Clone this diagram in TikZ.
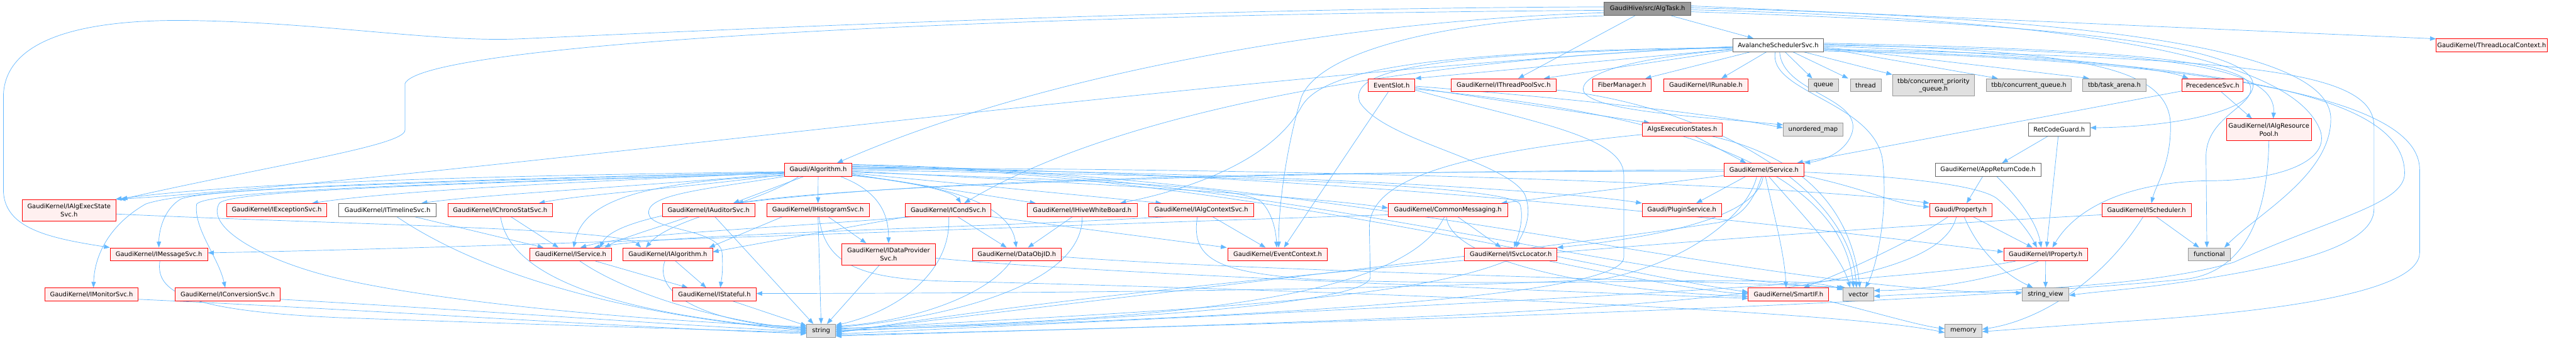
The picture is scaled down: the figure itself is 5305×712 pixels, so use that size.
\documentclass[tikz,border=0pt]{standalone}
\usepackage{fontspec}
\newfontfamily\dv{DejaVu Sans}
\usetikzlibrary{arrows.meta}
\definecolor{eblue}{HTML}{63B8FF}
\definecolor{rfill}{HTML}{FFF0F0}
\definecolor{rborder}{HTML}{FF0000}
\definecolor{gfill}{HTML}{E0E0E0}
\definecolor{gborder}{HTML}{999999}
\definecolor{wborder}{HTML}{666666}
\definecolor{rootfill}{HTML}{999999}
\pgfdeclarelayer{bg}
\pgfdeclarelayer{paper}
\pgfsetlayers{paper,bg,main}
\tikzset{
 nb/.style={draw, rectangle, inner sep=0pt, line width=1.1pt, minimum height=26.8pt, font=\dv\fontsize{12.9pt}{16.5pt}\selectfont, align=center, text=black},
 rn/.style={nb, draw=rborder, fill=rfill},
 gn/.style={nb, draw=gborder, fill=gfill},
 wn/.style={nb, draw=wborder, fill=white},
 rootn/.style={nb, draw=wborder, fill=rootfill},
 e/.style={draw=eblue, line width=0.9pt, -{Triangle[length=12pt,width=9pt]}},
}
\begin{document}
\begin{tikzpicture}[x=1pt,y=-1pt]
\useasboundingbox (0,0) rectangle (5305,712);
\begin{pgfonlayer}{paper}
\fill[white] (0,0) rectangle (5305,712);
\end{pgfonlayer}
% row 0/1
\node[rootn, minimum width=178.5pt, minimum height=27.5pt] (algtask) at (3392.9,18.2) {GaudiHive/src/AlgTask.h};
\node[wn, minimum width=187.5pt] (avalanche) at (3662,92.9) {AvalancheSchedulerSvc.h};
\node[rn, minimum width=228.5pt] (threadlocal) at (5131.2,92.9) {GaudiKernel/ThreadLocalContext.h};
% row 2
\node[rn, minimum width=96pt] (eventslot) at (2865.9,175.4) {EventSlot.h};
\node[rn, minimum width=216.5pt] (threadpool) at (3096.6,175.4) {GaudiKernel/IThreadPoolSvc.h};
\node[rn, minimum width=121pt] (fiber) at (3340.4,175.4) {FiberManager.h};
\node[rn, minimum width=173.3pt] (irunable) at (3513,175.4) {GaudiKernel/IRunable.h};
\node[gn, minimum width=61pt] (queue) at (3755.2,175.4) {queue};
\node[gn, minimum width=63.4pt] (thread) at (3842,175.4) {thread};
\node[gn, minimum width=169.2pt, minimum height=43.8pt] (tbbcpq) at (3981.9,175.9) {tbb/concurrent\_priority\\\_queue.h};
\node[gn, minimum width=174.2pt] (tbbcq) at (4178.1,175.4) {tbb/concurrent\_queue.h};
\node[gn, minimum width=130pt] (tbbta) at (4354.2,175.4) {tbb/task\_arena.h};
\node[rn, minimum width=125.8pt] (precedence) at (4556.7,175.4) {PrecedenceSvc.h};
% row 3
\node[rn, minimum width=165.6pt] (algsexec) at (3464.5,267) {AlgsExecutionStates.h};
\node[gn, minimum width=123.2pt] (unordered) at (3733.9,267) {unordered\_map};
\node[wn, minimum width=126.8pt] (retcode) at (4240.6,267) {RetCodeGuard.h};
\node[rn, minimum width=175.5pt, minimum height=44.7pt] (algres) at (4672.5,267) {GaudiKernel/IAlgResource\\Pool.h};
% row 4
\node[rn, minimum width=139.3pt] (algorithm) at (1684.9,349.5) {Gaudi/Algorithm.h};
\node[rn, minimum width=164.8pt] (service) at (3632.8,349.5) {GaudiKernel/Service.h};
\node[wn, minimum width=217.4pt] (appret) at (4094,349.5) {GaudiKernel/AppReturnCode.h};
% row 5
\node[rn, minimum width=193.3pt, minimum height=43.8pt] (execstate) at (142.2,432.6) {GaudiKernel/IAlgExecState\\Svc.h};
\node[rn, minimum width=206.7pt] (exception) at (569.9,432.2) {GaudiKernel/IExceptionSvc.h};
\node[wn, minimum width=200.4pt] (timeline) at (798,432.2) {GaudiKernel/ITimelineSvc.h};
\node[rn, minimum width=215.2pt] (chrono) at (1029.9,432.2) {GaudiKernel/IChronoStatSvc.h};
\node[rn, minimum width=190.7pt] (auditor) at (1459.2,432.2) {GaudiKernel/IAuditorSvc.h};
\node[rn, minimum width=211.2pt] (histo) at (1684.6,432.2) {GaudiKernel/IHistogramSvc.h};
\node[rn, minimum width=176.3pt] (cond) at (1952.9,432.2) {GaudiKernel/ICondSvc.h};
\node[rn, minimum width=226.4pt] (hive) at (2228.8,432.2) {GaudiKernel/IHiveWhiteBoard.h};
\node[rn, minimum width=215.7pt] (algctx) at (2473.9,432.2) {GaudiKernel/IAlgContextSvc.h};
\node[rn, minimum width=245.6pt] (commonmsg) at (2981.7,432.2) {GaudiKernel/CommonMessaging.h};
\node[rn, minimum width=163.4pt] (plugin) at (3463.4,432.2) {Gaudi/PluginService.h};
\node[rn, minimum width=128.5pt] (property) at (4038,432.2) {Gaudi/Property.h};
\node[rn, minimum width=183.9pt] (ischeduler) at (4420.5,432.2) {GaudiKernel/IScheduler.h};
% row 6
\node[rn, minimum width=200.9pt] (msgsvc) at (327.2,523.6) {GaudiKernel/IMessageSvc.h};
\node[rn, minimum width=168.4pt] (iservice) at (1175.2,523.6) {GaudiKernel/IService.h};
\node[rn, minimum width=184.4pt] (ialgorithm) at (1375.2,523.6) {GaudiKernel/IAlgorithm.h};
\node[rn, minimum width=193.8pt, minimum height=44.2pt] (dataprov) at (1829.9,523.4) {GaudiKernel/IDataProvider\\Svc.h};
\node[rn, minimum width=183.5pt] (dataobjid) at (2094,523.6) {GaudiKernel/DataObjID.h};
\node[rn, minimum width=204.5pt] (evctx) at (2631.2,523.6) {GaudiKernel/EventContext.h};
\node[rn, minimum width=190.3pt] (svcloc) at (3111.2,523.6) {GaudiKernel/ISvcLocator.h};
\node[rn, minimum width=172.8pt] (iproperty) at (4212.7,523.6) {GaudiKernel/IProperty.h};
\node[gn, minimum width=87pt] (functional) at (4549.8,523.6) {functional};
% row 7
\node[rn, minimum width=192.8pt] (monitor) at (188.4,606.2) {GaudiKernel/IMonitorSvc.h};
\node[rn, minimum width=216.1pt] (conversion) at (468.8,606.2) {GaudiKernel/IConversionSvc.h};
\node[rn, minimum width=171.4pt] (stateful) at (1471.4,606.2) {GaudiKernel/IStateful.h};
\node[rn, minimum width=165.7pt] (smartif) at (3683.2,606.2) {GaudiKernel/SmartIF.h};
\node[gn, minimum width=62.5pt] (vector) at (3827.2,606.2) {vector};
\node[gn, minimum width=96.4pt] (stringview) at (4212.5,606.2) {string\_view};
% row 8
\node[gn, minimum width=58.9pt] (string) at (1691,680.8) {string};
\node[gn, minimum width=76.3pt] (memory) at (4043.5,680.8) {memory};

\begin{pgfonlayer}{bg}
% ---- root
\draw[e] ([xshift=49pt]algtask.south) -- ([xshift=-51pt]avalanche.north);
\draw[e] ([yshift=6pt]algtask.east) -- ([yshift=13pt]threadlocal.west);
\draw[e] ([xshift=-26pt]algtask.south) -- ([xshift=30pt]threadpool.north);
\draw[e] ([yshift=-8pt]algtask.west) .. controls (2700,45) and (2100,170) .. ([xshift=39pt]algorithm.north);
\draw[e] ([yshift=-3pt]algtask.west) .. controls (2000,30) and (870,90) .. (834,172) -- (834,268) .. controls (834,300) and (560,340) .. ([xshift=108pt]execstate.north);
\draw[e] ([yshift=4pt]algtask.west) .. controls (2400,16) and (1300,70) .. (1070,80) .. controls (900,88) and (650,44) .. (370,42) .. controls (100,42) and (7,110) .. (7,200) -- (7,390) .. controls (7,470) and (100,490) .. (msgsvc.north west);
\draw[e] ([yshift=-6pt]algtask.east) .. controls (4300,50) and (4640,100) .. (4640,175) .. controls (4640,235) and (4450,262) .. ([yshift=4pt]retcode.east);
\draw[e] ([yshift=2pt]algtask.east) .. controls (4500,40) and (4800,130) .. (4800,245) .. controls (4800,360) and (4650,440) .. ([xshift=31pt]functional.north);
\draw[e] ([yshift=-2pt]algtask.east) .. controls (4300,40) and (4720,120) .. (4778,268) .. controls (4800,330) and (4700,370) .. (4560,372) .. controls (4400,372) and (4280,420) .. ([xshift=14pt]iproperty.north);
\draw[e] (algtask.south west) .. controls (3000,40) and (2720,100) .. (2680,200) .. controls (2650,300) and (2633,420) .. ([xshift=2pt]evctx.north);
% ---- avalanche
\draw[e] ([yshift=-8pt]avalanche.west) -- (eventslot.north east);
\draw[e] ([yshift=-11pt]avalanche.west) -- ([xshift=83pt]threadpool.north);
\draw[e] ([xshift=-57pt]avalanche.south) -- ([xshift=48pt]fiber.north);
\draw[e] ([xshift=-24pt]avalanche.south) -- ([xshift=32pt]irunable.north);
\draw[e] ([xshift=14pt]avalanche.south) -- ([xshift=-23pt]queue.north);
\draw[e] ([xshift=30pt]avalanche.south) -- ([xshift=-36pt]thread.north);
\draw[e] ([xshift=52pt]avalanche.south) -- (tbbcpq.north west);
\draw[e] ([yshift=-6pt]avalanche.east) -- ([xshift=-64pt]tbbcq.north);
\draw[e] ([yshift=-4pt]avalanche.east) -- ([xshift=-52pt]tbbta.north);
\draw[e] ([yshift=-2pt]avalanche.east) .. controls (4200,110) and (4450,140) .. ([xshift=-50pt]precedence.north);
\draw[e] (avalanche.east) .. controls (4400,105) and (4690,125) .. ([xshift=9pt]algres.north);
\draw[e] ([yshift=2pt]avalanche.east) .. controls (4300,105) and (4470,140) .. (4470,260) .. controls (4470,340) and (4440,380) .. ([xshift=10pt]ischeduler.north);
\draw[e] ([yshift=4pt]avalanche.east) .. controls (4300,100) and (4630,120) .. (4635,180) .. controls (4640,220) and (4545,240) .. (4543,320) -- ([xshift=-5pt]functional.north);
\draw[e] ([yshift=-8pt]avalanche.east) .. controls (4600,120) and (4889,140) .. (4889,260) -- (4889,430) .. controls (4889,510) and (4700,550) .. (4500,580) .. controls (4400,595) and (4320,600) .. ([yshift=-2pt]stringview.east);
\draw[e] ([yshift=-10pt]avalanche.east) .. controls (4700,125) and (4952,220) .. (4952,357) .. controls (4952,420) and (4800,450) .. (4600,540) .. controls (4400,600) and (4000,600) .. ([yshift=-4pt]vector.east);
\draw[e] ([yshift=-12pt]avalanche.east) .. controls (4800,130) and (4983,250) .. (4983,350) -- (4983,520) .. controls (4983,600) and (4700,640) .. (4400,660) .. controls (4250,670) and (4150,678) .. ([yshift=-2pt]memory.east);
\draw[e] ([yshift=-3pt]avalanche.west) .. controls (2600,140) and (1000,360) .. ([xshift=104pt]execstate.north);
\draw[e] ([yshift=-4pt]avalanche.west) .. controls (2900,120) and (2300,230) .. ([xshift=33pt]cond.north);
\draw[e] ([yshift=-5pt]avalanche.west) .. controls (2900,105) and (2720,150) .. (2680,220) .. controls (2620,330) and (2450,390) .. ([xshift=78pt]hive.north);
\draw[e] ([yshift=-6pt]avalanche.west) .. controls (2900,108) and (2780,150) .. (2800,210) .. controls (2850,290) and (3100,330) .. (3140,400) .. controls (3160,450) and (3130,490) .. ([xshift=11pt]svcloc.north);
\draw[e] ([yshift=-9pt]avalanche.west) .. controls (3300,125) and (3250,165) .. (3262,190) .. controls (3290,230) and (3500,240) .. ([yshift=10pt]unordered.west);
\draw[e] ([xshift=3pt]avalanche.south) .. controls (3670,190) and (3830,200) .. (3815,270) .. controls (3805,310) and (3760,330) .. (service.north east);
\draw[e] ([xshift=-6pt]avalanche.south) .. controls (3640,190) and (3860,210) .. (3877,330) .. controls (3890,450) and (3860,560) .. ([xshift=14pt]vector.north);
% ---- eventslot / threadpool / algsexec
\draw[e] ([xshift=-7pt]eventslot.south) -- ([xshift=13pt]evctx.north);
\draw[e] ([yshift=-5pt]eventslot.east) -- ([xshift=-67pt]algsexec.north);
\draw[e] ([yshift=-2pt]eventslot.east) .. controls (3200,200) and (3500,230) .. ([yshift=4pt]unordered.west);
\draw[e] ([yshift=-10pt]eventslot.east) .. controls (3150,250) and (3344,280) .. (3344,360) -- (3344,530) .. controls (3344,620) and (2400,660) .. ([yshift=1pt]string.east);
\draw[e] ([yshift=-8pt]eventslot.east) .. controls (3400,230) and (3790,330) .. ([xshift=-10pt]vector.north);
\draw[e] ([yshift=-10pt]threadpool.east) .. controls (3500,215) and (3810,380) .. ([xshift=-4pt]vector.north);
\draw[e] ([xshift=27pt]algsexec.south) -- ([xshift=-37pt]service.north);
\draw[e] ([xshift=62pt]algsexec.south) .. controls (3700,320) and (3810,420) .. ([xshift=3pt]vector.north);
\draw[e] ([yshift=-10pt]algsexec.west) .. controls (2950,320) and (2820,380) .. (2820,470) -- (2822,570) .. controls (2822,640) and (2000,670) .. ([yshift=-1pt]string.east);
% ---- service
\draw[e] ([xshift=-38pt]service.south) -- ([xshift=30pt]plugin.north);
\draw[e] ([xshift=3pt]service.south) .. controls (3650,430) and (3675,520) .. ([xshift=-5pt]smartif.north);
\draw[e] ([xshift=10pt]service.south) .. controls (3700,430) and (3790,520) .. ([xshift=-17pt]vector.north);
\draw[e] ([xshift=-5pt]service.south) .. controls (3610,420) and (3580,450) .. (3540,458) .. controls (3200,510) and (2400,600) .. ([yshift=-3pt]string.east);
\draw[e] ([xshift=-2pt]service.south) .. controls (3620,450) and (3400,490) .. (svcloc.north east);
\draw[e] ([yshift=-12pt]service.west) -- ([xshift=110pt]commonmsg.north);
\draw[e] ([yshift=-3pt]service.west) .. controls (2400,352) and (1300,380) .. ([xshift=60pt]iservice.north);
\draw[e] (service.west) .. controls (2800,352) and (1800,375) .. ([xshift=59pt]auditor.north);
\draw[e] ([yshift=-5pt]service.east) .. controls (3900,362) and (4080,380) .. (4114,410) .. controls (4150,440) and (4180,480) .. ([xshift=-18pt]iproperty.north);
\draw[e] ([yshift=-12pt]service.east) .. controls (3850,390) and (3900,420) .. ([yshift=6pt]property.west);
\draw[e] ([xshift=-15pt]service.south) .. controls (3600,440) and (3480,540) .. (3300,575) .. controls (2800,600) and (2000,604) .. ([yshift=2pt]stateful.east);
% ---- precedence / retcode / appret / property / ischeduler / iproperty / algres
\draw[e] ([yshift=-12pt]precedence.west) -- ([xshift=68pt]service.north);
\draw[e] ([xshift=18pt]precedence.south) -- ([xshift=-35pt]algres.north);
\draw[e] ([xshift=-24pt]retcode.south) -- ([xshift=29pt]appret.north);
\draw[e] ([xshift=-2pt]retcode.south) -- ([xshift=2pt]iproperty.north);
\draw[e] ([xshift=-11pt]appret.south) -- ([xshift=12pt]property.north);
\draw[e] ([xshift=18pt]appret.south) .. controls (4160,410) and (4195,460) .. ([xshift=-9pt]iproperty.north);
\draw[e] ([xshift=25pt]property.south) -- ([xshift=-27pt]iproperty.north);
\draw[e] ([xshift=7pt]property.south) .. controls (4080,530) and (4140,570) .. ([xshift=-26pt]stringview.north);
\draw[e] ([xshift=-9pt]property.south) .. controls (3990,600) and (3500,650) .. ([yshift=-9pt]string.east);
\draw[e] ([xshift=-26pt]property.south) .. controls (3950,490) and (3800,560) .. ([xshift=31pt]smartif.north);
\draw[e] ([xshift=20pt]ischeduler.south) -- ([xshift=-21pt]functional.north);
\draw[e] ([xshift=-7pt]ischeduler.south) .. controls (4330,580) and (4200,660) .. ([yshift=3pt]memory.east);
\draw[e] ([yshift=-10pt]ischeduler.west) .. controls (3800,470) and (2500,560) .. ([yshift=-5pt]string.east);
\draw[e] (iproperty.south) -- (stringview.north);
\draw[e] ([xshift=-62pt]iproperty.south) .. controls (3900,590) and (2500,650) .. ([yshift=-7pt]string.east);
\draw[e] ([xshift=-15pt]iproperty.south) .. controls (4100,580) and (3950,598) .. ([yshift=8pt]vector.east);
\draw[e] (algres.south) .. controls (4670,450) and (4620,560) .. (4500,575) .. controls (3800,640) and (2400,672) .. ([yshift=-11pt]string.east);
% ---- algorithm left
\draw[e] ([yshift=-4pt]algorithm.west) .. controls (1000,362) and (500,375) .. ([xshift=96pt]execstate.north);
\draw[e] ([yshift=-6pt]algorithm.west) .. controls (1100,378) and (800,395) .. ([xshift=73pt]exception.north);
\draw[e] ([yshift=-8pt]algorithm.west) .. controls (1300,385) and (1000,400) .. ([xshift=70pt]timeline.north);
\draw[e] ([yshift=-10pt]algorithm.west) .. controls (1400,388) and (1200,400) .. ([xshift=80pt]chrono.north);
\draw[e] ([yshift=-5pt]algorithm.west) .. controls (900,372) and (400,385) .. (300,420) .. controls (230,460) and (195,520) .. ([xshift=4pt]monitor.north);
\draw[e] ([yshift=-5pt]algorithm.west) .. controls (900,374) and (420,388) .. (372,410) .. controls (335,432) and (327,480) .. (msgsvc.north);
\draw[e] ([yshift=-7pt]algorithm.west) .. controls (900,378) and (430,392) .. (405,420) .. controls (398,470) and (450,530) .. ([xshift=-5pt]conversion.north);
\draw[e] ([yshift=-7pt]algorithm.west) .. controls (900,380) and (480,392) .. (452,418) .. controls (420,470) and (550,540) .. (700,574) .. controls (900,620) and (1300,660) .. ([yshift=8pt]string.west);
\draw[e] ([yshift=-12pt]algorithm.west) .. controls (1300,375) and (1200,420) .. ([xshift=6pt]iservice.north);
\draw[e] ([xshift=-40pt]algorithm.south) .. controls (1560,420) and (1380,450) .. ([xshift=-45pt]ialgorithm.north);
\draw[e] ([xshift=-30pt]algorithm.south) -- ([xshift=51pt]auditor.north);
\draw[e] (algorithm.south) -- (histo.north);
\draw[e] ([xshift=46pt]algorithm.south) .. controls (1800,390) and (1830,430) .. (dataprov.north);
\draw[e] (algorithm.south west) .. controls (1450,390) and (1330,400) .. (1336,440) .. controls (1340,475) and (1480,470) .. (1487,520) .. controls (1490,560) and (1485,580) .. ([xshift=12pt]stateful.north);
% ---- algorithm right
\draw[e] ([yshift=-11pt]algorithm.east) .. controls (1850,372) and (1960,390) .. ([xshift=26pt]cond.north);
\draw[e] ([yshift=-12pt]algorithm.east) .. controls (1950,380) and (2080,420) .. ([xshift=-1pt]dataobjid.north);
\draw[e] ([yshift=-9pt]algorithm.east) -- ([xshift=-96pt]hive.north);
\draw[e] ([yshift=-7pt]algorithm.east) -- ([xshift=-82pt]algctx.north);
\draw[e] ([yshift=-5pt]algorithm.east) .. controls (2200,370) and (2550,380) .. (2597,415) .. controls (2622,440) and (2628,480) .. ([xshift=-2pt]evctx.north);
\draw[e] ([yshift=-3pt]algorithm.east) .. controls (2300,380) and (2700,405) .. ([yshift=4pt]commonmsg.west);
\draw[e] ([yshift=-1pt]algorithm.east) .. controls (2500,360) and (3100,380) .. (3130,420) .. controls (3140,450) and (3125,490) .. ([xshift=7pt]svcloc.north);
\draw[e] ([yshift=1pt]algorithm.east) .. controls (2500,350) and (3200,390) .. (plugin.north west);
\draw[e] ([yshift=3pt]algorithm.east) .. controls (2700,345) and (3700,380) .. (property.north west);
\draw[e] ([yshift=5pt]algorithm.east) .. controls (2800,350) and (3800,480) .. ([yshift=5pt]iproperty.west);
\draw[e] ([yshift=7pt]algorithm.east) .. controls (2500,350) and (3300,560) .. ([yshift=5pt]smartif.west);
\draw[e] ([yshift=9pt]algorithm.east) .. controls (2600,350) and (3300,570) .. (vector.north west);
\draw[e] ([yshift=11pt]algorithm.east) .. controls (2800,360) and (3600,600) .. ([yshift=3pt]stringview.west);
% ---- row 5/6/7
\draw[e] ([yshift=-8pt]execstate.east) .. controls (700,462) and (1280,470) .. ([xshift=-55pt]ialgorithm.north);
\draw[e] ([xshift=2pt]msgsvc.south) .. controls (320,600) and (380,640) .. (700,654) .. controls (1100,668) and (1500,680) .. ([yshift=-4pt]string.west);
\draw[e] ([yshift=-10pt]monitor.east) .. controls (800,640) and (1300,675) .. ([yshift=-6pt]string.west);
\draw[e] ([yshift=-10pt]conversion.east) .. controls (1000,640) and (1400,670) .. ([yshift=-2pt]string.west);
\draw[e] ([xshift=55pt]timeline.south) -- ([xshift=-56pt]iservice.north);
\draw[e] ([xshift=19pt]timeline.south) .. controls (1000,570) and (1300,650) .. (string.west);
\draw[e] ([xshift=22pt]chrono.south) -- ([xshift=-25pt]iservice.north);
\draw[e] ([xshift=1pt]chrono.south) .. controls (1050,580) and (1300,650) .. ([yshift=2pt]string.west);
\draw[e] ([xshift=-41pt]auditor.south) .. controls (1350,470) and (1280,490) .. ([xshift=70pt]iservice.north);
\draw[e] ([xshift=13pt]auditor.south) -- ([xshift=-16pt]string.north);
\draw[e] ([xshift=-73pt]histo.south) -- ([xshift=85pt]ialgorithm.north);
\draw[e] ([xshift=21pt]histo.south) -- ([xshift=-46pt]dataprov.north);
\draw[e] (histo.south) -- (string.north);
\draw[e] ([xshift=2pt]histo.south) .. controls (1700,560) and (1800,578) .. (2000,580) .. controls (2800,600) and (3800,640) .. ([yshift=-4pt]memory.west);
\draw[e] ([xshift=-86pt]cond.south) -- ([yshift=5pt]ialgorithm.east);
\draw[e] ([xshift=-73pt]cond.south) .. controls (1600,470) and (1300,480) .. ([xshift=20pt]iservice.north);
\draw[e] ([xshift=19pt]cond.south) -- ([xshift=-21pt]dataobjid.north);
\draw[e] (cond.south east) -- ([xshift=-105pt]evctx.north);
\draw[e] ([xshift=1pt]cond.south) .. controls (1960,560) and (1850,640) .. ([yshift=11pt]string.east);
\draw[e] ([xshift=-20pt]hive.south) -- ([xshift=23pt]dataobjid.north);
\draw[e] (hive.south) .. controls (2230,600) and (1900,660) .. ([yshift=7pt]string.east);
\draw[e] ([xshift=23pt]algctx.south) -- ([xshift=-25pt]evctx.north);
\draw[e] ([xshift=-69pt]algctx.south) .. controls (2000,470) and (1400,480) .. ([xshift=48pt]iservice.north);
\draw[e] ([xshift=-8pt]algctx.south) .. controls (2450,540) and (2520,560) .. (2700,575) .. controls (3200,595) and (3700,560) .. ([yshift=-5pt]vector.north west);
\draw[e] ([xshift=-19pt]dataprov.south) -- ([xshift=12pt]string.north);
\draw[e] ([yshift=-8pt]dataprov.east) .. controls (2200,560) and (3200,600) .. ([yshift=-8pt]smartif.west);
\draw[e] ([xshift=-12pt]dataobjid.south) .. controls (2040,600) and (1900,660) .. ([yshift=9pt]string.east);
\draw[e] ([yshift=-5pt]dataobjid.east) .. controls (2600,560) and (3600,580) .. ([xshift=5pt]vector.north west);
\draw[e] ([yshift=-10pt]commonmsg.west) .. controls (2000,470) and (1000,510) .. ([yshift=3pt]msgsvc.east);
\draw[e] ([xshift=20pt]commonmsg.south) -- ([xshift=-20pt]svcloc.north);
\draw[e] ([xshift=-7pt]commonmsg.south) .. controls (2900,600) and (2500,660) .. ([yshift=5pt]string.east);
\draw[e] ([xshift=-3pt]commonmsg.south) .. controls (2985,540) and (3300,600) .. ([yshift=-4pt]smartif.west);
\draw[e] ([xshift=-10pt]svcloc.south) .. controls (2900,620) and (2400,640) .. ([yshift=3pt]string.east);
\draw[e] ([xshift=80pt]svcloc.south) .. controls (3300,560) and (3500,600) .. ([yshift=1pt]smartif.west);
\draw[e] ([xshift=38pt]stateful.south) -- ([yshift=10pt]string.west);
\draw[e] ([xshift=16pt]ialgorithm.south) -- ([xshift=-17pt]stateful.north);
\draw[e] ([xshift=-6pt]ialgorithm.south) .. controls (1340,620) and (1500,670) .. ([yshift=6pt]string.west);
\draw[e] ([xshift=51pt]iservice.south) -- ([xshift=-55pt]stateful.north);
\draw[e] ([xshift=19pt]iservice.south) .. controls (1300,610) and (1500,665) .. ([yshift=4pt]string.west);
\draw[e] (smartif.south east) .. controls (3850,640) and (3950,670) .. ([yshift=4pt]memory.west);
\end{pgfonlayer}
\end{tikzpicture}
\end{document}
